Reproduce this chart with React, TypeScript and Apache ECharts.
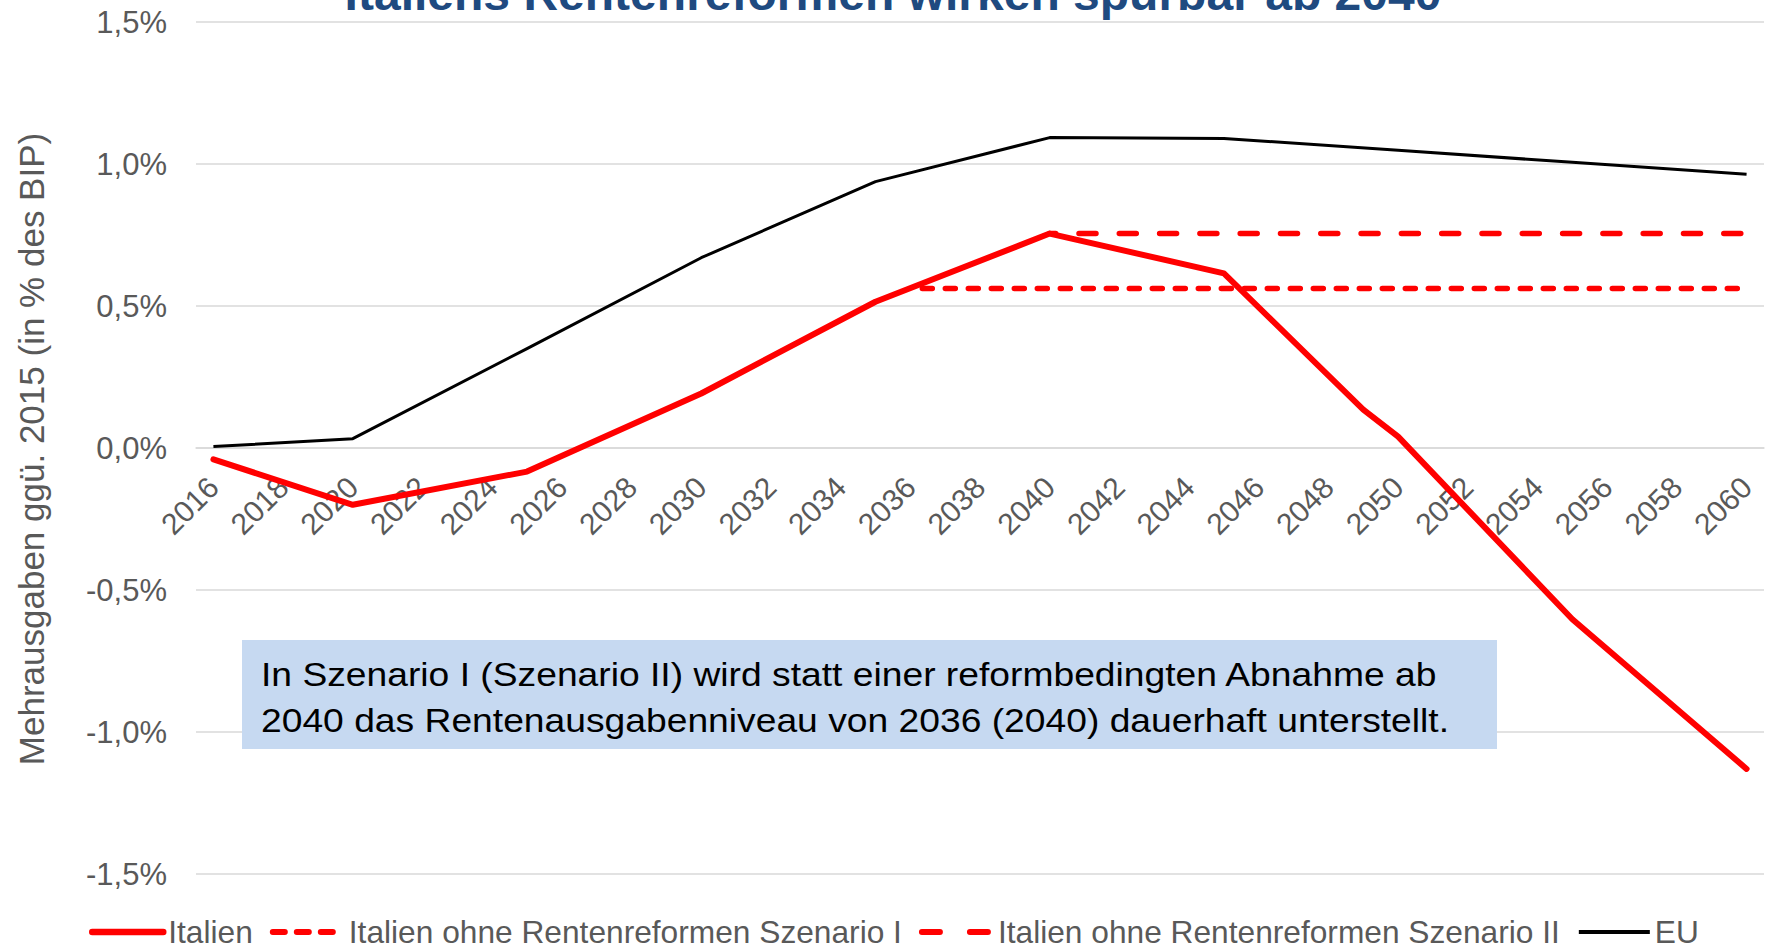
import React, { useEffect, useRef } from "react";
import * as echarts from "echarts";

const years: string[] = [
  "2016", "2017", "2018", "2019", "2020", "2021", "2022", "2023", "2024", "2025",
  "2026", "2027", "2028", "2029", "2030", "2031", "2032", "2033", "2034", "2035",
  "2036", "2037", "2038", "2039", "2040", "2041", "2042", "2043", "2044", "2045",
  "2046", "2047", "2048", "2049", "2050", "2051", "2052", "2053", "2054", "2055",
  "2056", "2057", "2058", "2059", "2060",
];

// [year, value in % of GDP]
const italienPts: [number, number][] = [
  [2016, -0.04], [2020, -0.2], [2025, -0.083], [2030, 0.192], [2035, 0.515],
  [2040, 0.755], [2045, 0.615], [2049, 0.135], [2050, 0.04], [2055, -0.603], [2060, -1.13],
];
const szenario1Pts: [number, number][] = [[2036, 0.562], [2060, 0.562]];
const szenario2Pts: [number, number][] = [[2040, 0.755], [2060, 0.755]];
const euPts: [number, number][] = [
  [2016, 0.005], [2020, 0.033], [2025, 0.35], [2030, 0.67], [2035, 0.938],
  [2040, 1.093], [2045, 1.09], [2050, 1.048], [2055, 1.006], [2060, 0.964],
];

const seriesNames = [
  "Italien",
  "Italien ohne Rentenreformen Szenario I",
  "Italien ohne Rentenreformen Szenario II",
  "EU",
];

const yMin = -1.5;
const yMax = 1.5;
const yStep = 0.5;

const titleText = "Italiens Rentenreformen wirken spürbar ab 2040";
const yAxisTitle = "Mehrausgaben ggü. 2015 (in % des BIP)";
const noteLines = [
  "In Szenario I (Szenario II) wird statt einer reformbedingten Abnahme ab",
  "2040 das Rentenausgabenniveau von 2036 (2040) dauerhaft unterstellt.",
];

const FONT = "'Liberation Sans', Arial, Helvetica, sans-serif";
const GREY = "#595959";
const GRID = "#d9d9d9";

const GRID_TOP = 22;
const GRID_HEIGHT = 852;

function toSeries(pts: [number, number][]): (number | null)[] {
  return years.map((y) => {
    const p = pts.find((q) => String(q[0]) === y);
    return p ? p[1] : null;
  });
}

export default function App() {
  const ref = useRef<HTMLDivElement>(null);

  useEffect(() => {
    if (!ref.current) return;
    const chart = echarts.init(ref.current, undefined, { renderer: "svg" });

    // distance from the plot bottom up to the value 0 (category axis sits on zero)
    const zeroOffset = -((0 - yMin) / (yMax - yMin)) * GRID_HEIGHT;

    const option: any = {
      animation: false,
      backgroundColor: "#ffffff",
      textStyle: { fontFamily: FONT },
      grid: {
        left: 196,
        right: 9,
        top: GRID_TOP,
        height: GRID_HEIGHT,
        containLabel: false,
        outerBoundsMode: "none",
      },
      legend: {
        left: 89,
        top: 916,
        padding: 0,
        itemWidth: 71,
        itemHeight: 14,
        itemGap: 17,
        itemStyle: { opacity: 0, borderWidth: 0 },
        textStyle: { fontSize: 31.7, lineHeight: 26, color: GREY, fontFamily: FONT },
        data: [
          { name: seriesNames[0], lineStyle: { width: 6.5, type: "solid", cap: "round" } },
          { name: seriesNames[1], lineStyle: { width: 6, type: [12, 12], dashOffset: 0, cap: "round" } },
          { name: seriesNames[2], lineStyle: { width: 6, type: [18, 30], dashOffset: 0, cap: "round" } },
          { name: seriesNames[3], lineStyle: { width: 4, type: "solid" } },
        ],
      },
      xAxis: {
        type: "category",
        data: years,
        boundaryGap: true,
        offset: zeroOffset,
        axisLine: { show: true, onZero: false, lineStyle: { color: GRID, width: 1.5 } },
        axisTick: { show: false },
        axisLabel: {
          interval: 1,
          rotate: 45,
          margin: 34,
          fontSize: 30,
          color: GREY,
          fontFamily: FONT,
        },
        splitLine: { show: false },
      },
      yAxis: {
        type: "value",
        min: yMin,
        max: yMax,
        interval: yStep,
        axisLine: { show: false },
        axisTick: { show: false },
        splitLine: { show: true, lineStyle: { color: GRID, width: 1.5 } },
        axisLabel: {
          margin: 29,
          fontSize: 31,
          color: GREY,
          fontFamily: FONT,
          formatter: (v: number) => v.toFixed(1).replace(".", ",") + "%",
        },
      },
      series: [
        {
          name: seriesNames[0],
          type: "line",
          data: toSeries(italienPts),
          connectNulls: true,
          symbol: "none",
          z: 4,
          lineStyle: { color: "#ff0000", width: 6, cap: "round", join: "round" },
          itemStyle: { color: "#ff0000" },
        },
        {
          name: seriesNames[1],
          type: "line",
          data: toSeries(szenario1Pts),
          connectNulls: true,
          symbol: "none",
          z: 3,
          lineStyle: {
            color: "#ff0000",
            width: 5.5,
            type: [10, 13],
            dashOffset: 11,
            cap: "round",
          },
          itemStyle: { color: "#ff0000" },
        },
        {
          name: seriesNames[2],
          type: "line",
          data: toSeries(szenario2Pts),
          connectNulls: true,
          symbol: "none",
          z: 3,
          lineStyle: {
            color: "#ff0000",
            width: 5.5,
            type: [17, 23.3],
            dashOffset: 11,
            cap: "round",
          },
          itemStyle: { color: "#ff0000" },
        },
        {
          name: seriesNames[3],
          type: "line",
          data: toSeries(euPts),
          connectNulls: true,
          symbol: "none",
          z: 3,
          lineStyle: { color: "#000000", width: 3, join: "round" },
          itemStyle: { color: "#000000" },
        },
      ],
      graphic: [
        {
          type: "text",
          x: 893,
          y: -6,
          scaleX: 1.044,
          z: 20,
          style: {
            text: titleText,
            fontSize: 46,
            fontWeight: "bold",
            fontFamily: FONT,
            fill: "#1f4a80",
            align: "center",
            verticalAlign: "middle",
          },
        },
        {
          type: "text",
          x: 31,
          y: 449,
          rotation: Math.PI / 2,
          z: 20,
          style: {
            text: yAxisTitle,
            fontSize: 35,
            fontFamily: FONT,
            fill: GREY,
            align: "center",
            verticalAlign: "middle",
          },
        },
        {
          type: "rect",
          z: 10,
          shape: { x: 242, y: 640, width: 1255, height: 109 },
          style: { fill: "#c6d9f1" },
        },
        {
          type: "text",
          x: 261,
          y: 674,
          scaleX: 1.146,
          z: 11,
          style: {
            text: noteLines[0],
            fontSize: 32.5,
            fontFamily: FONT,
            fill: "#000000",
            align: "left",
            verticalAlign: "middle",
          },
        },
        {
          type: "text",
          x: 261,
          y: 720,
          scaleX: 1.146,
          z: 11,
          style: {
            text: noteLines[1],
            fontSize: 32.5,
            fontFamily: FONT,
            fill: "#000000",
            align: "left",
            verticalAlign: "middle",
          },
        },
      ],
    };

    chart.setOption(option);
    return () => chart.dispose();
  }, []);

  return (
    <div
      ref={ref}
      style={{ position: "fixed", left: 0, top: 0, width: 1773, height: 946, background: "#fff" }}
    />
  );
}
